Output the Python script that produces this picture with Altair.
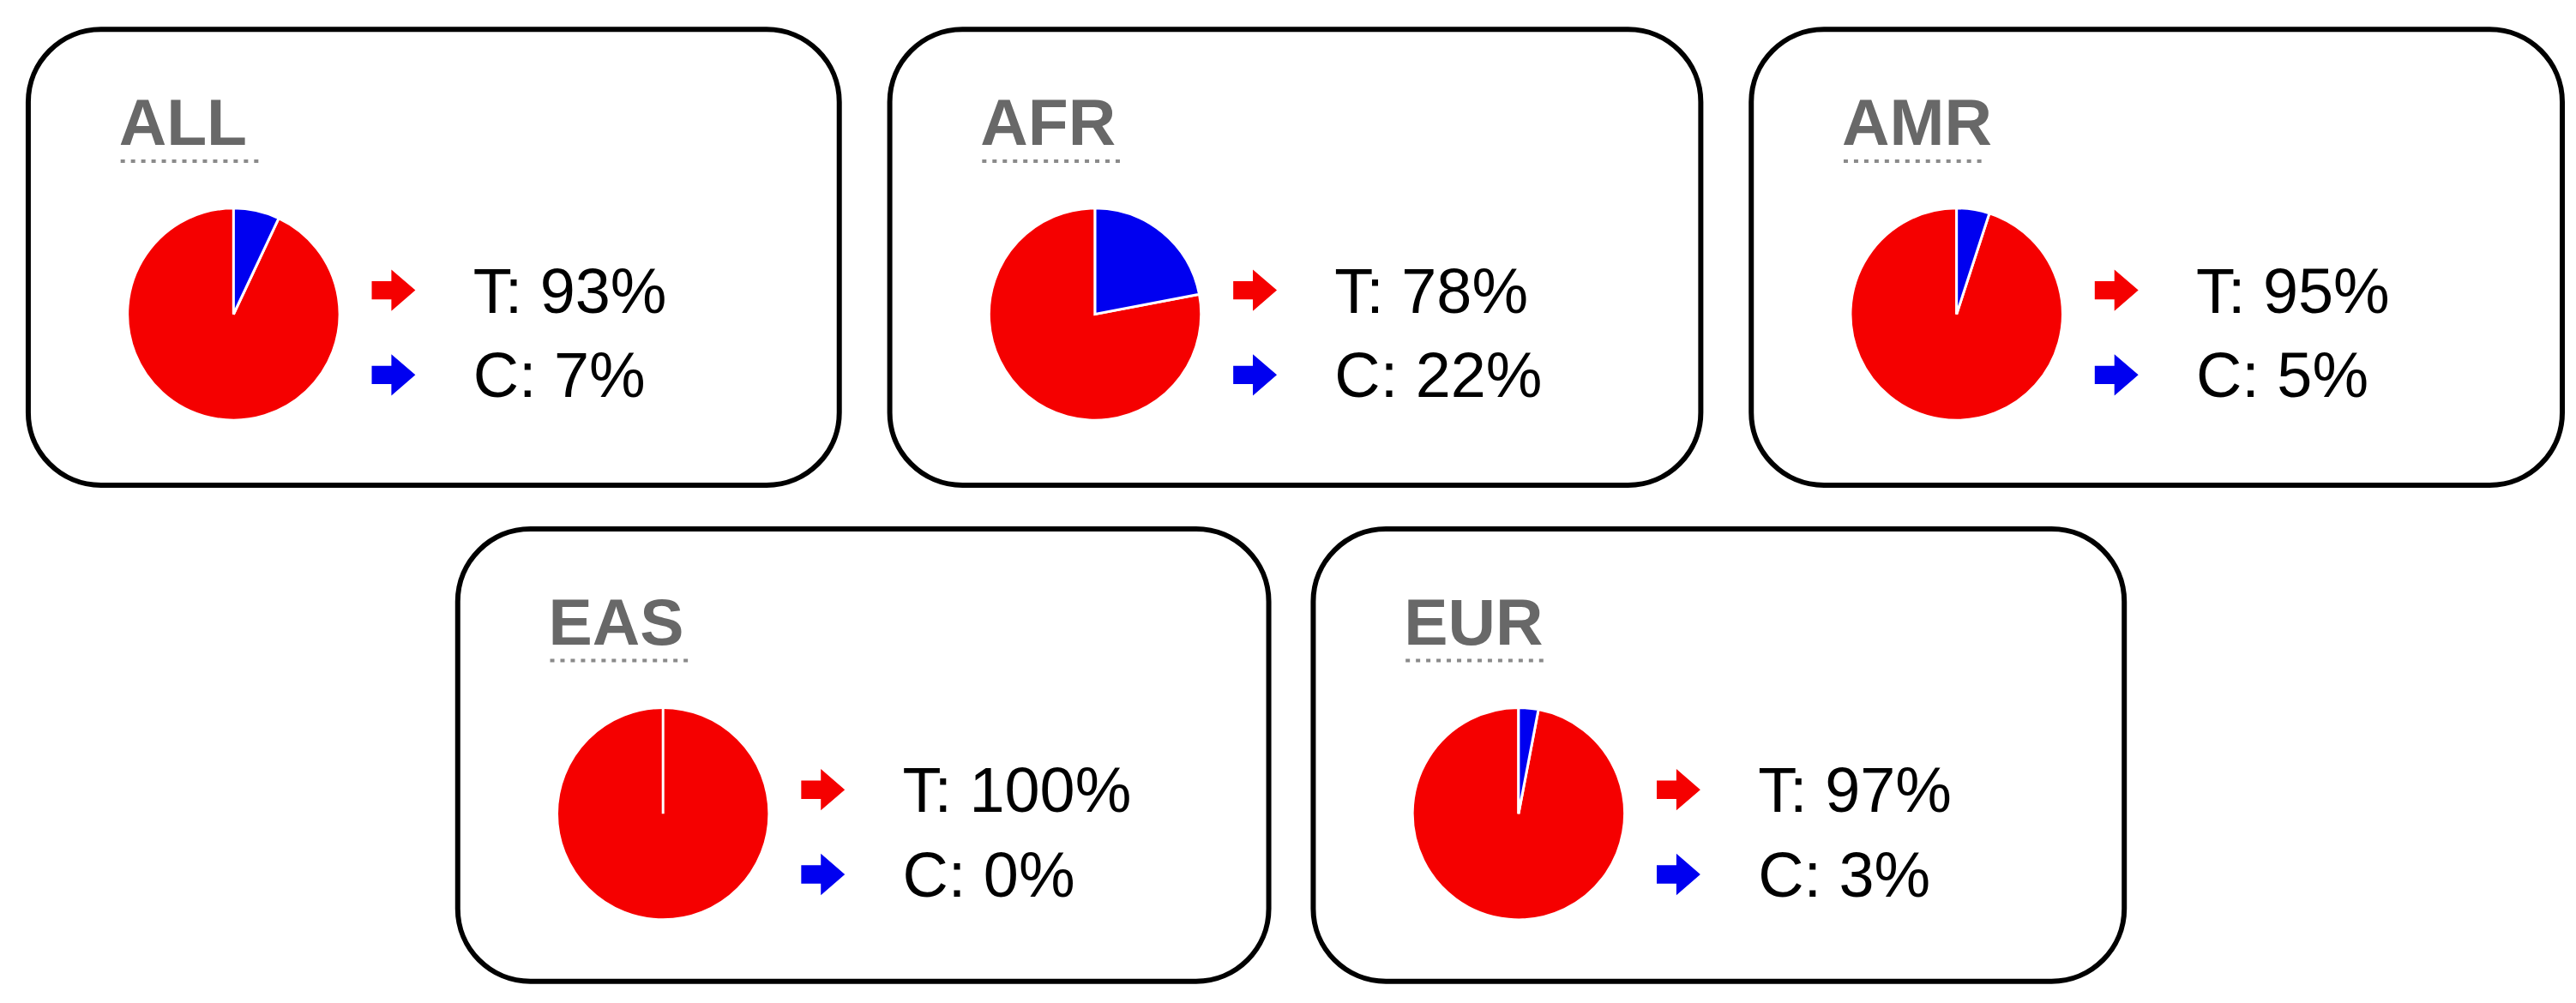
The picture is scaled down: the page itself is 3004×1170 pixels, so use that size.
import altair as alt
import pandas as pd

# ---- data ----
regions = ["ALL", "AFR", "AMR", "EAS", "EUR"]
t_pct = [93, 78, 95, 100, 97]
c_pct = [7, 22, 5, 0, 3]
alleles = ["T", "C"]
allele_colors = ["#f50000", "#0000f0"]

ARROW = "M -1 -0.42 L -0.1 -0.42 L -0.1 -0.95 L 1 0 L -0.1 0.95 L -0.1 0.42 L -1 0.42 Z"
FONT = "Liberation Sans"


def panel(i, height):
    df = pd.DataFrame({
        "allele": alleles,
        "pct": [t_pct[i], c_pct[i]],
        "order": [1, 0],
    })
    df["label"] = df["allele"] + ": " + df["pct"].astype(str) + "%"
    base = alt.Chart(df)
    color = alt.Color("allele:N", scale=alt.Scale(domain=alleles, range=allele_colors))
    ypos = alt.Y("allele:N", scale=alt.Scale(domain=alleles, range=[305, 404], padding=0))

    pie = base.mark_arc(radius=124, stroke="white", strokeWidth=3).encode(
        theta=alt.Theta("pct:Q", stack=True),
        color=color,
        order=alt.Order("order:Q"),
        x=alt.value(240),
        y=alt.value(333),
    )
    arrows = base.mark_point(shape=ARROW, size=2600, filled=True, opacity=1).encode(
        x=alt.value(427), y=ypos, color=color
    )
    labels = base.mark_text(
        align="left", baseline="alphabetic", fontSize=74, font=FONT, dy=26, color="black"
    ).encode(x=alt.value(520), y=ypos, text="label:N")

    tdf = pd.DataFrame({"region": [regions[i]]})
    title = alt.Chart(tdf).mark_text(
        align="left", baseline="alphabetic", fontSize=77, font=FONT,
        fontWeight="bold", color="#686868"
    ).encode(x=alt.value(106), y=alt.value(135), text="region:N")
    underline = alt.Chart(tdf).mark_rule(
        color="#8a8a8a", strokeWidth=4, strokeDash=[5, 7]
    ).encode(x=alt.value(108), x2=alt.value(272), y=alt.value(154))

    return alt.layer(pie, arrows, labels, title, underline).properties(
        width=948, height=height
    )


spacer = (
    alt.Chart(pd.DataFrame({"a": [0]}))
    .mark_point(opacity=0)
    .encode(x=alt.value(0), y=alt.value(0))
    .properties(width=450, height=529, view=alt.ViewBackground(stroke="transparent"))
)

top = alt.hconcat(panel(0, 533), panel(1, 533), panel(2, 533), spacing=53)
bottom = alt.hconcat(spacer, panel(3, 529), panel(4, 529), spacing=46)

chart = (
    alt.vconcat(top, bottom, spacing=42)
    .properties(padding={"left": 19, "top": 22, "right": 5, "bottom": 5})
    .configure_view(stroke="black", strokeWidth=6, cornerRadius=85)
    .configure_axis(disable=True)
    .configure_legend(disable=True)
)

chart.save("out.html", embed_options={"renderer": "svg", "actions": False})
